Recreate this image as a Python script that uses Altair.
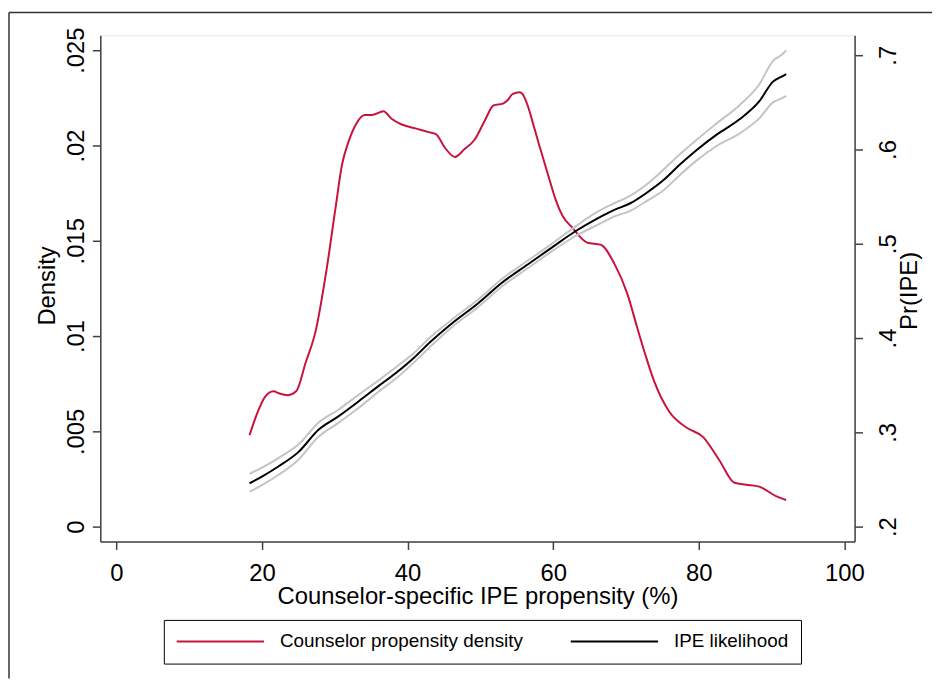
import altair as alt
import pandas as pd

# ---- data ----
dens_x = [18.3, 19.4, 20.4, 21.6, 22.3, 23.6, 24.7, 26.0, 27.4, 28.8,
          30.1, 31.0, 31.9, 32.9, 34.1, 35.1, 36.7, 37.8, 39.2, 41.1,
          42.9, 43.9, 45.1, 46.5, 47.8, 49.2, 50.6, 51.8, 53.1, 53.8,
          54.4, 55.4, 55.8, 56.5, 57.2, 58.1, 59.5, 60.3, 61.3, 62.6,
          64.7, 66.5, 68.4, 70.2, 71.5, 72.6, 73.8, 76.0, 78.3, 80.6,
          82.8, 84.9, 86.5, 88.3, 90.6, 92.0]
dens_y = [0.0048, 0.0060, 0.0068, 0.0071, 0.0070, 0.0069, 0.0071, 0.0086, 0.0103, 0.0133,
          0.0167, 0.0190, 0.0202, 0.0211, 0.0216, 0.0216, 0.0218, 0.0214, 0.0211, 0.0209,
          0.0207, 0.0206, 0.0199, 0.0194, 0.0198, 0.0203, 0.0213, 0.0221, 0.0222, 0.0224,
          0.0227, 0.0228, 0.0227, 0.0221, 0.0212, 0.0200, 0.0182, 0.0172, 0.0163, 0.0157,
          0.0149, 0.0148, 0.0138, 0.0122, 0.0105, 0.0091, 0.0077, 0.0060, 0.0052, 0.0047,
          0.0035, 0.0023, 0.0022, 0.0021, 0.0016, 0.0014]

ipe_x = [18.3, 20.0, 22.3, 25.0, 27.8, 30.5, 33.3, 36.0, 38.4, 41.0,
         43.0, 46.0, 49.7, 53.0, 56.5, 60.0, 63.0, 66.1, 68.4, 70.6,
         73.0, 75.2, 77.4, 79.8, 82.5, 85.6, 88.3, 90.2, 91.3, 92.0]
ipe_y = [0.246, 0.253, 0.264, 0.279, 0.303, 0.317, 0.333, 0.349, 0.363, 0.380,
         0.395, 0.415, 0.437, 0.459, 0.478, 0.497, 0.513, 0.527, 0.536, 0.543,
         0.555, 0.568, 0.584, 0.600, 0.616, 0.632, 0.651, 0.672, 0.677, 0.680]
ipe_hi = [0.256, 0.2625, 0.273, 0.287, 0.3105, 0.324, 0.340, 0.355, 0.369, 0.385,
          0.400, 0.419, 0.441, 0.463, 0.482, 0.501, 0.518, 0.534, 0.543, 0.551,
          0.564, 0.579, 0.595, 0.611, 0.628, 0.647, 0.669, 0.694, 0.700, 0.705]
ipe_lo = [0.237, 0.244, 0.255, 0.271, 0.2955, 0.310, 0.326, 0.343, 0.357, 0.375,
          0.390, 0.411, 0.433, 0.455, 0.474, 0.493, 0.508, 0.520, 0.529, 0.535,
          0.546, 0.557, 0.573, 0.589, 0.604, 0.617, 0.633, 0.650, 0.654, 0.657]

series_names = ["Counselor propensity density", "IPE likelihood"]
series_colors = ["#c8143c", "#000000"]
x_ticks = [0, 20, 40, 60, 80, 100]
dens_ticks = [0, 0.005, 0.01, 0.015, 0.02, 0.025]
pr_ticks = [0.2, 0.3, 0.4, 0.5, 0.6, 0.7]

dens_df = pd.DataFrame({"x": dens_x, "d": dens_y, "series": series_names[0]})
ipe_df = pd.DataFrame({"x": ipe_x, "pr": ipe_y, "hi": ipe_hi, "lo": ipe_lo,
                       "series": series_names[1]})
frame_df = pd.DataFrame({"k": [0]})

FONT = "Liberation Sans"
AX = "#404040"

x_enc = alt.X("x:Q",
              scale=alt.Scale(domain=[-2.2, 101.4], nice=False, zero=False),
              axis=alt.Axis(values=x_ticks, title="Counselor-specific IPE propensity (%)",
                            labelFontSize=24, titleFontSize=24, tickSize=8,
                            labelPadding=12, labelFlush=False,
                            titleY=43, titleBaseline="top"))

color_legend = alt.Legend(orient="none", legendX=64, legendY=589, direction="horizontal",
                          title=None, symbolType="stroke", symbolSize=7744,
                          symbolStrokeWidth=2, clipHeight=19, labelFontSize=19,
                          labelFont=FONT, labelColor="black", labelOffset=15,
                          labelLimit=400, columnPadding=46, padding=12,
                          strokeColor="black", fillColor="white", cornerRadius=0)
color_enc = alt.Color("series:N",
                      scale=alt.Scale(domain=series_names, range=series_colors),
                      legend=color_legend)

left_axis = alt.Axis(values=dens_ticks,
                     labelExpr="datum.value == 0 ? '0' : slice(format(datum.value, '.3~f'), 1)",
                     labelAngle=270, labelAlign="center", labelBaseline="bottom",
                     labelPadding=4, labelFontSize=24, tickSize=8,
                     title="Density", titleFontSize=24, titleAngle=270,
                     titleBaseline="bottom", titleAlign="center", titleX=-41, titleY=252)
right_axis = alt.Axis(orient="right", values=pr_ticks,
                      labelExpr="slice(format(datum.value, '.1f'), 1)",
                      labelAngle=270, labelAlign="center", labelBaseline="top",
                      labelPadding=14, labelFontSize=24, tickSize=8,
                      title="Pr(IPE)", titleFontSize=24, titleAngle=270,
                      titleBaseline="top", titleAlign="center", titleX=43, titleY=257)

y_left_scale = alt.Scale(domain=[-0.00078, 0.02578], nice=False, zero=False)
y_right_scale = alt.Scale(domain=[0.1842, 0.7211], nice=False, zero=False)

frame_left = alt.Chart(frame_df).mark_rule(color="#333333", strokeWidth=1.5).encode(
    x=alt.value(-92), y=alt.value(-23), y2=alt.value(648))
frame_top = alt.Chart(frame_df).mark_rule(color="#333333", strokeWidth=1.5).encode(
    x=alt.value(-92), x2=alt.value(838), y=alt.value(-23))

dens_line = alt.Chart(dens_df).mark_line(strokeWidth=2, interpolate="monotone").encode(
    x=x_enc, y=alt.Y("d:Q", scale=y_left_scale, axis=left_axis), color=color_enc)

ci_hi = alt.Chart(ipe_df).mark_line(strokeWidth=2, color="#c4c4c4", interpolate="monotone").encode(
    x=x_enc, y=alt.Y("hi:Q", scale=y_right_scale, axis=right_axis))
ci_lo = alt.Chart(ipe_df).mark_line(strokeWidth=2, color="#c4c4c4", interpolate="monotone").encode(
    x=x_enc, y=alt.Y("lo:Q", scale=y_right_scale, axis=right_axis))
ipe_line = alt.Chart(ipe_df).mark_line(strokeWidth=2, interpolate="monotone").encode(
    x=x_enc, y=alt.Y("pr:Q", scale=y_right_scale, axis=right_axis), color=color_enc)

left_layer = alt.layer(frame_left, frame_top, dens_line)
right_layer = alt.layer(ci_hi, ci_lo, ipe_line)

chart = alt.layer(left_layer, right_layer).resolve_scale(y="independent").properties(
    width=760, height=510,
    padding={"left": 0, "top": 1, "right": 0, "bottom": 0},
    background="white",
).configure_view(stroke="#e2e7ec", strokeWidth=1).configure_axis(
    labelFont=FONT, titleFont=FONT, labelColor="black", titleColor="black",
    domainColor=AX, tickColor=AX, domainWidth=1.5, tickWidth=1.5, grid=False,
    titleFontWeight="normal")

chart.save("out.html", embed_options={"renderer": "svg", "actions": False})
